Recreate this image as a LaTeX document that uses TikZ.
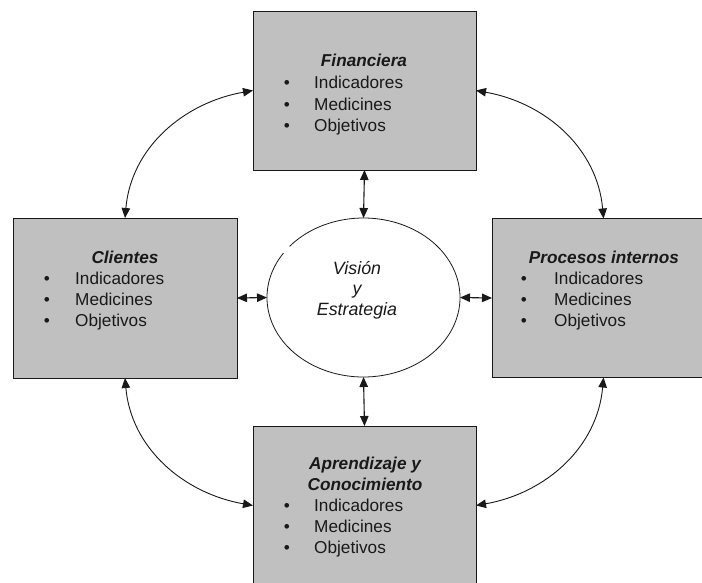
\documentclass[tikz,border=0pt]{standalone}
\usepackage{fontspec}
\setmainfont{Liberation Sans}
\usetikzlibrary{shapes.geometric,arrows.meta}
\definecolor{boxgray}{RGB}{192,192,192}
\definecolor{ink}{RGB}{25,25,25}
\begin{document}
\begin{tikzpicture}[x=1pt,y=1pt,
  font=\fontsize{17.2}{20}\selectfont,
  panel/.style={rectangle,draw=ink,line width=0.8pt,fill=boxgray,
    minimum width=223pt,minimum height=159pt,inner sep=0pt,outer sep=0pt},
  hub/.style={ellipse,minimum width=193pt,minimum height=159pt,inner sep=0pt,outer sep=0pt},
  ttl/.style={anchor=base,inner sep=0pt,text=ink,font=\fontsize{17.2}{20}\selectfont\bfseries\itshape},
  hubtxt/.style={anchor=base,inner sep=0pt,text=ink,font=\fontsize{17.8}{20}\selectfont\itshape},
  itm/.style={anchor=base west,inner sep=0pt,text=ink},
  dot/.style={anchor=base,inner sep=0pt,text=ink},
  tip/.tip={Triangle[length=10pt,width=8.5pt]},
  link/.style={draw=ink,line width=1.1pt,tip-tip},
  arc/.style={draw=ink,line width=0.9pt,tip-tip}
]
\useasboundingbox (0,0) rectangle (702,-582);
\clip (0,0) rectangle (702,-582);

% the four perspective panels
\node[panel] (fin) at (364.5,-90.5) {};
\node[panel,minimum width=224pt,minimum height=160pt] (cli) at (125,-298) {};
\node[panel] (pro) at (603.5,-298) {};
\node[panel] (apr) at (364.5,-505.5) {};

% central ellipse (outline drawn with a small break)
\node[hub] (vis) at (363.5,-297.5) {};
\draw[ink,line width=0.8pt] (vis.center) ++(146:96.5pt and 79.5pt)
  arc[start angle=146,end angle=500,x radius=96.5pt,y radius=79.5pt];

% panel texts
\node[ttl] (finT) at (364,-66) {Financiera};
\node[dot] (finB1) at (287,-88) {•};  \node[itm] (finI1) at (314,-88) {Indicadores};
\node[dot] (finB2) at (287,-110) {•}; \node[itm] (finI2) at (314,-110) {Medicines};
\node[dot] (finB3) at (287,-131) {•}; \node[itm] (finI3) at (314,-131) {Objetivos};

\node[ttl] (cliT) at (125,-263) {Clientes};
\node[dot] (cliB1) at (47,-284) {•};  \node[itm] (cliI1) at (75,-284) {Indicadores};
\node[dot] (cliB2) at (47,-305) {•};  \node[itm] (cliI2) at (75,-305) {Medicines};
\node[dot] (cliB3) at (47,-326) {•};  \node[itm] (cliI3) at (75,-326) {Objetivos};

\node[ttl] (proT) at (604,-263) {Procesos internos};
\node[dot] (proB1) at (524,-284) {•}; \node[itm] (proI1) at (554,-284) {Indicadores};
\node[dot] (proB2) at (524,-305) {•}; \node[itm] (proI2) at (554,-305) {Medicines};
\node[dot] (proB3) at (524,-326) {•}; \node[itm] (proI3) at (554,-326) {Objetivos};

\node[ttl] (aprT1) at (365,-469) {Aprendizaje y};
\node[ttl] (aprT2) at (365,-490) {Conocimiento};
\node[dot] (aprB1) at (287,-511) {•}; \node[itm] (aprI1) at (314,-511) {Indicadores};
\node[dot] (aprB2) at (287,-532) {•}; \node[itm] (aprI2) at (314,-532) {Medicines};
\node[dot] (aprB3) at (287,-553) {•}; \node[itm] (aprI3) at (314,-553) {Objetivos};

% centre text
\node[hubtxt] (visT1) at (357,-274) {Visión};
\node[hubtxt] (visT2) at (357,-294.5) {y};
\node[hubtxt] (visT3) at (357,-315) {Estrategia};

% straight links to the centre
\draw[link] (fin.south) -- (vis.north);
\draw[link] (vis.south) -- (apr.north);
\draw[link] (cli.east) -- (vis.west);
\draw[link] (vis.east) -- (pro.west);

% curved links between neighbouring panels
\draw[arc] (cli.north) to[out=85,in=190] (fin.west);
\draw[arc] (fin.east) to[out=-10,in=95] (pro.north);
\draw[arc] (cli.south) to[out=-85,in=170] (apr.west);
\draw[arc] (apr.east) to[out=10,in=-95] (pro.south);
\end{tikzpicture}
\end{document}
